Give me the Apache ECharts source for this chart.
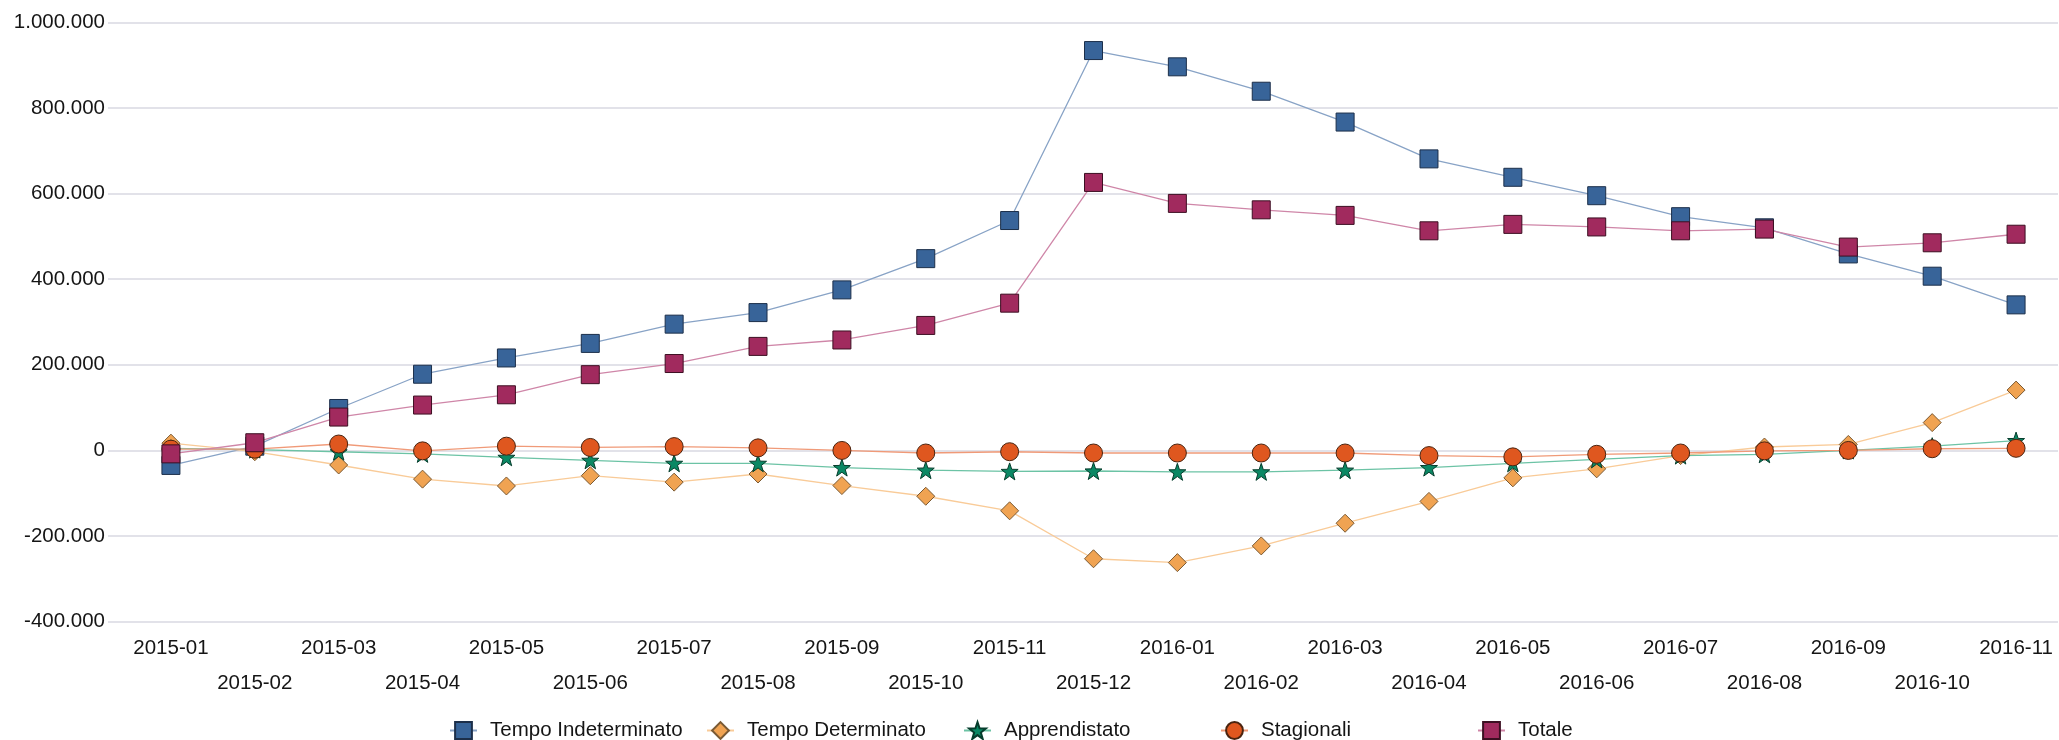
<!DOCTYPE html>
<html>
<head>
<meta charset="utf-8">
<script src="https://cdn.jsdelivr.net/npm/echarts@6/dist/echarts.min.js"></script>
<style>
html,body{margin:0;padding:0;background:#fff;}
#chart{width:2059px;height:740px;}
</style>
</head>
<body>
<div id="chart"></div>
<script>
var categories = ['2015-01','2015-02','2015-03','2015-04','2015-05','2015-06','2015-07','2015-08','2015-09','2015-10','2015-11','2015-12',
  '2016-01','2016-02','2016-03','2016-04','2016-05','2016-06','2016-07','2016-08','2016-09','2016-10','2016-11'];
var tempoIndeterminato = [-35000, 10000, 98000, 178000, 216000, 250000, 295000, 322000, 375000, 448000, 537000, 934000,
  896000, 839000, 767000, 681000, 638000, 595000, 546000, 520000, 459000, 407000, 340000];
var tempoDeterminato = [17000, -3000, -34000, -67000, -83000, -59000, -74000, -55000, -82000, -107000, -141000, -253000,
  -262000, -223000, -170000, -119000, -64000, -43000, -12000, 8000, 14000, 65000, 141000];
var apprendistato = [5000, 2000, -3000, -8000, -16000, -23000, -30000, -30000, -40000, -46000, -49000, -48000,
  -50000, -50000, -46000, -40000, -30000, -21000, -12000, -9000, 0, 10000, 23000];
var stagionali = [3000, 3000, 15000, -1000, 10000, 7000, 9000, 6000, 0, -6000, -3000, -6000,
  -6000, -6000, -6000, -12000, -15000, -9000, -6000, -1000, 0, 4000, 5000];
var totale = [-8000, 18000, 78000, 106000, 130000, 177000, 203000, 243000, 258000, 292000, 344000, 626000,
  577000, 562000, 549000, 513000, 528000, 522000, 513000, 517000, 475000, 485000, 505000];
var yMin = -400000, yMax = 1000000, yStep = 200000;

function fmtIt(v){
  var s = Math.abs(v).toString().replace(/\B(?=(\d{3})+(?!\d))/g, '.');
  return (v < 0 ? '-' : '') + s;
}
function starPath(){
  var pts = [];
  for (var k = 0; k < 10; k++) {
    var r = (k % 2 === 0) ? 50 : 20;
    var a = -Math.PI/2 + k*Math.PI/5;
    pts.push((50 + r*Math.cos(a)).toFixed(2) + ' ' + (50 + r*Math.sin(a)).toFixed(2));
  }
  return 'path://M' + pts.join(' L') + ' Z';
}

var FONT = 'Liberation Sans, Arial, sans-serif';
var TXT = '#151515';
var defs = [
  {name:'Tempo Indeterminato', data:tempoIndeterminato, symbol:'rect', size:18, fill:'#386499', border:'#1c2f4a', line:'#88a3c6'},
  {name:'Tempo Determinato', data:tempoDeterminato, symbol:'diamond', size:18, fill:'#f0a352', border:'#7a5a34', line:'#f9cb98'},
  {name:'Apprendistato', data:apprendistato, symbol:starPath(), size:17, fill:'#0b8864', border:'#063d2c', line:'#6cc3a5'},
  {name:'Stagionali', data:stagionali, symbol:'circle', size:18, fill:'#df571f', border:'#4a2410', line:'#f09a78'},
  {name:'Totale', data:totale, symbol:'rect', size:18, fill:'#a12a5e', border:'#3c0f22', line:'#cf86a8'}
];

var series = defs.map(function(d){
  return {
    name: d.name, type:'line', xAxisIndex:1, yAxisIndex:1,
    data: d.data, symbol: d.symbol, symbolSize: d.size, showSymbol:true,
    lineStyle:{color:d.line, width:1.3},
    itemStyle:{color:d.fill, borderColor:d.border, borderWidth:1},
    emphasis:{disabled:true}, animation:false
  };
});

var chart = echarts.init(document.getElementById('chart'), null, {renderer:'canvas'});
chart.setOption({
  backgroundColor:'#ffffff',
  animation:false,
  grid:[
    {left:108, right:1, top:22.3, bottom:118.3, containLabel:false},
    {left:129, right:1, top:22.3, bottom:118.3, containLabel:false}
  ],
  xAxis:[
    {type:'category', gridIndex:0, data:categories, show:false},
    {type:'category', gridIndex:1, data:categories, boundaryGap:true,
      axisLine:{show:false}, axisTick:{show:false},
      axisLabel:{interval:0, margin:9, fontSize:20.5, lineHeight:35, color:TXT, fontFamily:FONT,
        formatter:function(v, i){ return (i % 2 === 1) ? '\n' + v : v; }}
    }
  ],
  yAxis:[
    {type:'value', gridIndex:0, min:yMin, max:yMax, interval:yStep,
      axisLine:{show:false}, axisTick:{show:false},
      axisLabel:{margin:3, fontSize:20.5, color:TXT, fontFamily:FONT, formatter:fmtIt},
      splitLine:{show:true, lineStyle:{color:'#d8d8e2', width:1.5}}
    },
    {type:'value', gridIndex:1, min:yMin, max:yMax, interval:yStep, show:false, splitLine:{show:false}}
  ],
  legend:{
    left:444, top:715, orient:'horizontal', itemWidth:27, itemHeight:21, itemGap:16,
    textStyle:{fontSize:20.5, color:TXT, fontFamily:FONT, width:200, padding:[0,0,0,8], lineHeight:20},
    selectedMode:false,
    data: defs.map(function(d){ return d.name; })
  },
  series: series
});
</script>
</body>
</html>
